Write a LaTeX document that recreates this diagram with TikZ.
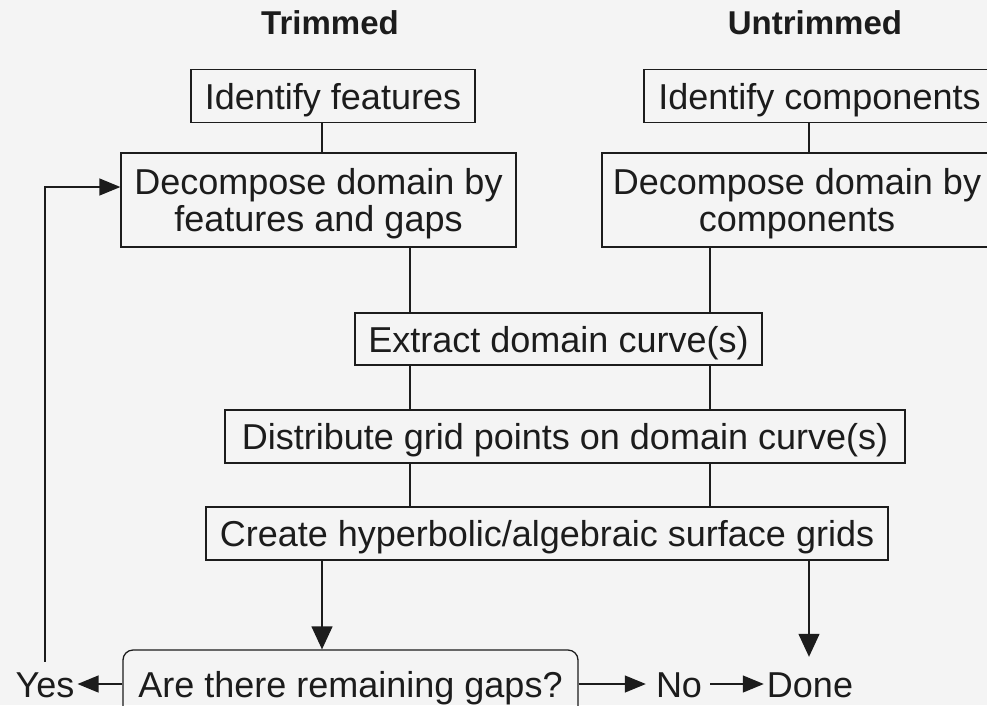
\documentclass[tikz,border=0pt]{standalone}
\usepackage{fontspec}
\setmainfont{Liberation Sans}
\usepackage{tikz}
\usepackage{xcolor}
\usetikzlibrary{arrows.meta}

\definecolor{paper}{RGB}{244,244,244}
\definecolor{ink}{RGB}{28,28,28}

\begin{document}
\begin{tikzpicture}[
            x=1pt, y=-1pt,
            every node/.style={text=ink},
            box/.style={draw=ink, line width=1.3pt, inner sep=0pt, align=center,
                font=\fontsize{36}{37}\selectfont},
            oneline/.style={box, text height=26pt, text depth=0pt},
            twoline/.style={box, text depth=0pt},
            heading/.style={font=\bfseries\fontsize{33}{36}\selectfont},
            answer/.style={inner sep=0pt, text height=26pt, text depth=0pt,
                font=\fontsize{36}{37}\selectfont},
            link/.style={draw=ink, line width=1.3pt},
            flow/.style={link, -{Triangle[length=21pt, width=17pt]}},
            drop/.style={link, -{Triangle[length=23pt, width=21pt]}},
        ]
            \useasboundingbox[fill=paper] (0,0) rectangle (987,705);

            % column headings
            \node[heading] (trim) at (330,23) {Trimmed};
            \node[heading] (untrim) at (815,23) {Untrimmed};

            % boxes
            \node[oneline, minimum width=284, minimum height=53] (idfeat) at (333,96) {Identify features};
            \node[oneline, minimum width=351, minimum height=53] (idcomp) at (819.5,96) {Identify components};
            \node[twoline, minimum width=395, minimum height=94] (decfeat) at (318.5,200) {Decompose domain by\\features and gaps};
            \node[twoline, minimum width=390, minimum height=94] (deccomp) at (797,200) {Decompose domain by\\components};
            \node[oneline, minimum width=407, minimum height=52] (extract) at (558.5,339) {Extract domain curve(s)};
            \node[oneline, minimum width=680, minimum height=53] (distrib) at (565,436.5) {Distribute grid points on domain curve(s)};
            \node[oneline, minimum width=682, minimum height=53] (create) at (547,533.5) {Create hyperbolic/algebraic surface grids};
            \node[oneline, rounded corners=10pt, minimum width=455, minimum height=68] (gaps) at (350.5,684) {Are there remaining gaps?};

            \node[answer] (yes) at (45,684) {Yes};
            \node[answer] (no) at (679,684) {No};
            \node[answer] (done) at (810,684) {Done};

            % trunk columns
            \coordinate (lx) at (322,0);
            \coordinate (lt) at (410,0);
            \coordinate (rt) at (710,0);
            \coordinate (rx) at (809,0);

            \draw[link] (idfeat.south -| lx) -- (decfeat.north -| lx);
            \draw[link] (idcomp.south -| rx) -- (deccomp.north -| rx);
            \draw[link] (decfeat.south -| lt) -- (extract.north -| lt);
            \draw[link] (deccomp.south -| rt) -- (extract.north -| rt);
            \draw[link] (extract.south -| lt) -- (distrib.north -| lt);
            \draw[link] (extract.south -| rt) -- (distrib.north -| rt);
            \draw[link] (distrib.south -| lt) -- (create.north -| lt);
            \draw[link] (distrib.south -| rt) -- (create.north -| rt);

            \draw[drop] (create.south -| lx) -- (gaps.north -| lx);
            \draw[drop, shorten >=14pt] (create.south -| rx) -- (done.north -| rx);

            \draw[flow, shorten >=3pt] (gaps.west) -- (yes.east);
            \draw[flow, shorten >=10pt] (gaps.east) -- (no.west);
            \draw[flow, shorten <=8pt, shorten >=3pt] (no.east) -- (done.west);

            % loop back for the next gap
            \draw[flow] ([yshift=9pt]yes.north) |- ([yshift=13pt]decfeat.west);
        \end{tikzpicture}
\end{document}
